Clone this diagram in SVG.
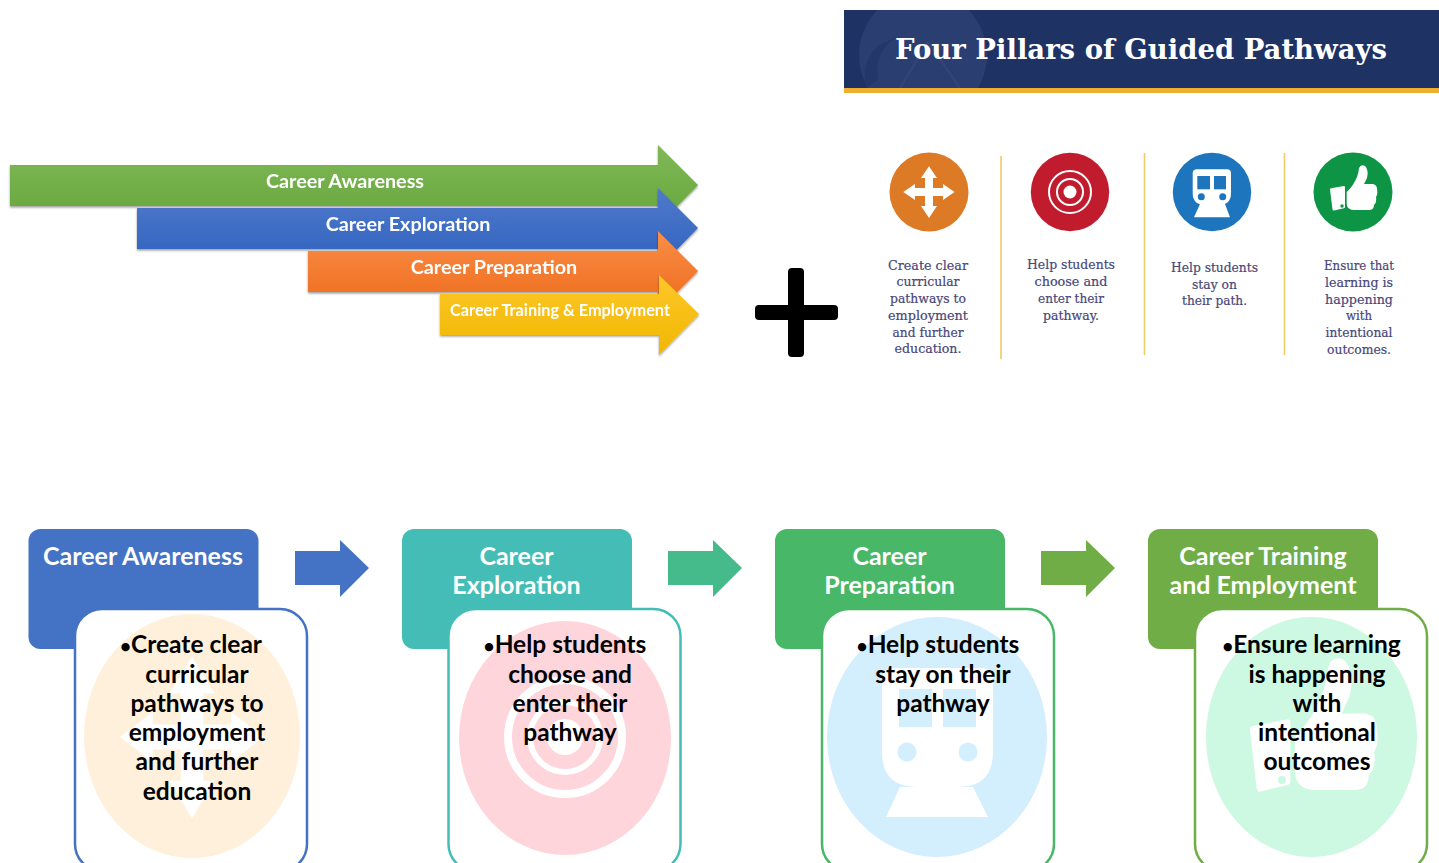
<svg xmlns="http://www.w3.org/2000/svg" xmlns:xlink="http://www.w3.org/1999/xlink" width="1439" height="863" viewBox="0 0 1439 863">
<style>
text{font-family:"Lato","Carlito","Open Sans","Liberation Sans",sans-serif}
.ar{font-weight:700;fill:#fff;text-anchor:middle;font-size:19.800px}
.hd{font-weight:700;fill:#fff;text-anchor:middle;font-size:25px}
.bd{font-weight:700;fill:#000;text-anchor:middle;font-size:24.500px}
.bu{font-size:19px}
.pl{font-family:"DejaVu Serif","Liberation Serif",serif;fill:#47477a;stroke:#47477a;stroke-width:.2;text-anchor:middle;font-size:12.5px}
.ti{font-family:"DejaVu Serif","Liberation Serif",serif;font-weight:700;fill:#fff;font-size:27px}
.div{stroke:#f0cb6a;stroke-width:1.6;fill:none}
.w{fill:#fff}
</style>
<defs>
<linearGradient id="gG" x1="0" y1="0" x2="0" y2="1"><stop offset="0" stop-color="#7fb957"/><stop offset="1" stop-color="#66a53b"/></linearGradient>
<linearGradient id="gB" x1="0" y1="0" x2="0" y2="1"><stop offset="0" stop-color="#5079cc"/><stop offset="1" stop-color="#2f62bd"/></linearGradient>
<linearGradient id="gO" x1="0" y1="0" x2="0" y2="1"><stop offset="0" stop-color="#f98e48"/><stop offset="1" stop-color="#ed6a1a"/></linearGradient>
<linearGradient id="gY" x1="0" y1="0" x2="0" y2="1"><stop offset="0" stop-color="#ffc72a"/><stop offset="1" stop-color="#efb700"/></linearGradient>
<filter id="sh" x="-5%" y="-10%" width="110%" height="125%"><feDropShadow dx="0" dy="1.5" stdDeviation="1.2" flood-color="#000" flood-opacity=".4"/></filter>
<filter id="soft" x="-5%" y="-5%" width="110%" height="110%"><feGaussianBlur stdDeviation=".35"/></filter>
<path id="cross" d="M0-25.700 8-14H4V-4H14V-8L25.500 0 14 8V4H4V14H8L0 26-8 14H-4V4H-14V8L-25.700 0-14-8V-4H-4V-14H-8Z"/>
<path id="thumb" d="M-6.300 0C0-6 5-14 6-24Q8-28 12-26 16-22 14-14L11-8H20Q24-7 24-3 25 2 23 5 24 10 21 13 21 18 16 18H2Q-6 18-6.300 12ZM-22-3.700-9-6Q-8-6-8-5V15Q-8 16-9 16.300L-19 18.500Q-20.300 18.700-20.500 17.500L-23-2.500Q-23-3.500-22-3.700Z"/>
<clipPath id="bn"><rect x="844" y="10" width="595" height="78"/></clipPath>
</defs>

<g id="banner">
<rect x="844" y="10" width="595" height="78" fill="#1f3264"/>
<g clip-path="url(#bn)">
<circle cx="923" cy="55" r="64" fill="#2b3e72"/>
<path d="M878 80Q872 45 910 30L880 45Q860 60 866 88Z" fill="#24376a"/>
<path d="M900 88 928 42 960 88" fill="none" stroke="#33467a" stroke-width="2"/>
</g>
<rect x="844" y="88" width="595" height="5" fill="#efb02f"/>
<text class="ti" x="895" y="59" textLength="492" lengthAdjust="spacingAndGlyphs">Four Pillars of Guided Pathways</text>
</g>

<g id="arrow-career-awareness" filter="url(#sh)">
<path d="M10 165H658V145L698 185 658 226V206H10Z" fill="url(#gG)"/>
<text class="ar" x="345" y="188">Career Awareness</text>
</g>
<g id="arrow-career-exploration" filter="url(#sh)">
<path d="M137 208H658V188L698 228 658 269V249H137Z" fill="url(#gB)"/>
<text class="ar" x="408" y="231">Career Exploration</text>
</g>
<g id="arrow-career-preparation" filter="url(#sh)">
<path d="M308 251H658V231L698 271 658 312V292H308Z" fill="url(#gO)"/>
<text class="ar" x="494" y="274">Career Preparation</text>
</g>
<g id="arrow-career-training" filter="url(#sh)">
<path d="M440 294H659V275L699 314 659 355V335H440Z" fill="url(#gY)"/>
<text class="ar" x="560" y="316" style="font-size:16.300px">Career Training &amp; Employment</text>
</g>

<g id="plus">
<rect x="788" y="268" width="16" height="89" rx="4" fill="#000"/>
<rect x="755" y="305" width="83" height="15" rx="4" fill="#000"/>
</g>

<g id="pillar-1">
<g filter="url(#soft)"><circle cx="929" cy="192" r="39.500" fill="#dd7a26"/>
<use xlink:href="#cross" href="#cross" transform="translate(929 192)" class="w"/></g>
<text class="pl" x="928" y="269.500" textLength="80" lengthAdjust="spacingAndGlyphs">Create clear</text>
<text class="pl" x="928" y="286" textLength="63" lengthAdjust="spacingAndGlyphs">curricular</text>
<text class="pl" x="928" y="303" textLength="76" lengthAdjust="spacingAndGlyphs">pathways to</text>
<text class="pl" x="928" y="320" textLength="80" lengthAdjust="spacingAndGlyphs">employment</text>
<text class="pl" x="928" y="336.500" textLength="71" lengthAdjust="spacingAndGlyphs">and further</text>
<text class="pl" x="928" y="353" textLength="67" lengthAdjust="spacingAndGlyphs">education.</text>
</g>
<g id="pillar-2">
<g filter="url(#soft)"><circle cx="1070" cy="192" r="39.200" fill="#c01e2f"/>
<circle cx="1070" cy="192" r="21" fill="none" stroke="#fff" stroke-width="2"/>
<circle cx="1070" cy="192" r="13" fill="none" stroke="#fff" stroke-width="2"/>
<circle cx="1070" cy="192" r="6.500" fill="#fff"/></g>
<text class="pl" x="1071" y="269" textLength="88" lengthAdjust="spacingAndGlyphs">Help students</text>
<text class="pl" x="1071" y="286" textLength="73" lengthAdjust="spacingAndGlyphs">choose and</text>
<text class="pl" x="1071" y="303" textLength="66" lengthAdjust="spacingAndGlyphs">enter their</text>
<text class="pl" x="1071" y="320" textLength="56" lengthAdjust="spacingAndGlyphs">pathway.</text>
</g>
<g id="pillar-3">
<g filter="url(#soft)"><circle cx="1212" cy="192" r="39.200" fill="#1d74bd"/>
<path d="M1197 169.300H1227Q1231 169.300 1231 173.300V193Q1231 205 1219 205H1205Q1192.700 205 1192.700 193V173.300Q1192.700 169.300 1197 169.300Z" class="w"/>
<rect x="1197.300" y="176" width="12.700" height="13.300" fill="#1d74bd"/>
<rect x="1214" y="176" width="12" height="13.300" fill="#1d74bd"/>
<circle cx="1201.300" cy="196.700" r="3.500" fill="#1d74bd"/>
<circle cx="1222.700" cy="196.700" r="3.500" fill="#1d74bd"/>
<path d="M1200 204H1225L1230 217.300H1194Z" class="w"/></g>
<text class="pl" x="1214.500" y="272" textLength="87" lengthAdjust="spacingAndGlyphs">Help students</text>
<text class="pl" x="1214.500" y="289" textLength="45" lengthAdjust="spacingAndGlyphs">stay on</text>
<text class="pl" x="1214.500" y="305" textLength="65" lengthAdjust="spacingAndGlyphs">their path.</text>
</g>
<g id="pillar-4">
<g filter="url(#soft)"><circle cx="1353" cy="192" r="39.500" fill="#0b9444"/>
<use xlink:href="#thumb" href="#thumb" transform="translate(1353 192)" class="w"/>
<circle cx="1342" cy="206" r="1.700" fill="#0b9444"/></g>
<text class="pl" x="1359" y="270" textLength="70" lengthAdjust="spacingAndGlyphs">Ensure that</text>
<text class="pl" x="1359" y="287" textLength="68" lengthAdjust="spacingAndGlyphs">learning is</text>
<text class="pl" x="1359" y="304" textLength="68" lengthAdjust="spacingAndGlyphs">happening</text>
<text class="pl" x="1359" y="320" textLength="26" lengthAdjust="spacingAndGlyphs">with</text>
<text class="pl" x="1359" y="337" textLength="67" lengthAdjust="spacingAndGlyphs">intentional</text>
<text class="pl" x="1359" y="354" textLength="64" lengthAdjust="spacingAndGlyphs">outcomes.</text>
</g>
<g id="pillar-dividers">
<path class="div" d="M1001 156V359M1144.500 153V355M1284.500 153V355"/>
</g>

<g id="connectors">
<path d="M295 551H340V540L369 568 340 597V585H295Z" fill="#4472c4"/>
<path d="M668 551H713V540L742 568 713 597V585H668Z" fill="#45bb8c"/>
<path d="M1041 551H1086V540L1115 568 1086 597V585H1041Z" fill="#70ad47"/>
</g>

<g id="step-career-awareness">
<rect x="28.500" y="529" width="230" height="120" rx="12" fill="#4472c4"/>
<text class="hd" x="143" y="565">Career Awareness</text>
<rect x="75" y="609" width="232" height="262" rx="27" fill="#fff" stroke="#4472c4" stroke-width="2.500"/>
<ellipse cx="192" cy="736" rx="108" ry="122" fill="#fff0db"/>
<use xlink:href="#cross" href="#cross" transform="translate(192 737) scale(2.8 3.130)" class="w"/>
<text class="bd"><tspan x="191" y="653"><tspan class="bu">•</tspan>Create clear</tspan><tspan x="197" y="683">curricular</tspan><tspan x="197" y="712">pathways to</tspan><tspan x="197" y="741">employment</tspan><tspan x="197" y="770">and further</tspan><tspan x="197" y="800">education</tspan></text>
</g>

<g id="step-career-exploration">
<rect x="402" y="529" width="230" height="120" rx="12" fill="#45bdb7"/>
<text class="hd" x="516.500" y="565">Career</text>
<text class="hd" x="516.500" y="594">Exploration</text>
<rect x="448.500" y="609" width="232" height="262" rx="27" fill="#fff" stroke="#45bdb7" stroke-width="2.500"/>
<ellipse cx="565" cy="738" rx="106" ry="117" fill="#ffd5dc"/>
<circle cx="565" cy="737" r="57" fill="none" stroke="#fff" stroke-width="8"/>
<circle cx="565" cy="737" r="35" fill="none" stroke="#fff" stroke-width="6"/>
<circle cx="565" cy="737" r="18" fill="#fff"/>
<text class="bd"><tspan x="565" y="653"><tspan class="bu">•</tspan>Help students</tspan><tspan x="570" y="683">choose and</tspan><tspan x="570" y="712">enter their</tspan><tspan x="570" y="741">pathway</tspan></text>
</g>

<g id="step-career-preparation">
<rect x="775" y="529" width="230" height="120" rx="12" fill="#48b767"/>
<text class="hd" x="889.500" y="565">Career</text>
<text class="hd" x="889.500" y="594">Preparation</text>
<rect x="822" y="609" width="232" height="262" rx="27" fill="#fff" stroke="#48b767" stroke-width="2.500"/>
<ellipse cx="937" cy="737" rx="110" ry="120" fill="#d3eefd"/>
<path d="M894 668H981Q993 668 993 680V752Q993 787 958 787H917Q882 787 882 752V680Q882 668 894 668Z" class="w"/>
<rect x="899" y="689" width="33" height="38" fill="#d3eefd"/>
<rect x="943" y="689" width="33" height="38" fill="#d3eefd"/>
<circle cx="907" cy="752" r="9.500" fill="#d3eefd"/>
<circle cx="968" cy="752" r="9.500" fill="#d3eefd"/>
<path d="M900 787H973L988 817H886Z" class="w"/>
<text class="bd"><tspan x="938" y="653"><tspan class="bu">•</tspan>Help students</tspan><tspan x="943" y="683">stay on their</tspan><tspan x="943" y="712">pathway</tspan></text>
</g>

<g id="step-career-training">
<rect x="1148" y="529" width="230" height="120" rx="12" fill="#70ad47"/>
<text class="hd" x="1263" y="565">Career Training</text>
<text class="hd" x="1263" y="594">and Employment</text>
<rect x="1195" y="609" width="232" height="262" rx="27" fill="#fff" stroke="#70ad47" stroke-width="2.500"/>
<ellipse cx="1311.500" cy="737" rx="105.500" ry="120" fill="#cdf8e1"/>
<use xlink:href="#thumb" href="#thumb" transform="translate(1312 737) scale(2.7 2.950)" class="w"/>
<circle cx="1282" cy="780" r="4" fill="#cdf8e1"/>
<text class="bd"><tspan x="1311.500" y="653"><tspan class="bu">•</tspan>Ensure learning</tspan><tspan x="1317" y="683">is happening</tspan><tspan x="1317" y="712">with</tspan><tspan x="1317" y="741">intentional</tspan><tspan x="1317" y="770">outcomes</tspan></text>
</g>
</svg>
